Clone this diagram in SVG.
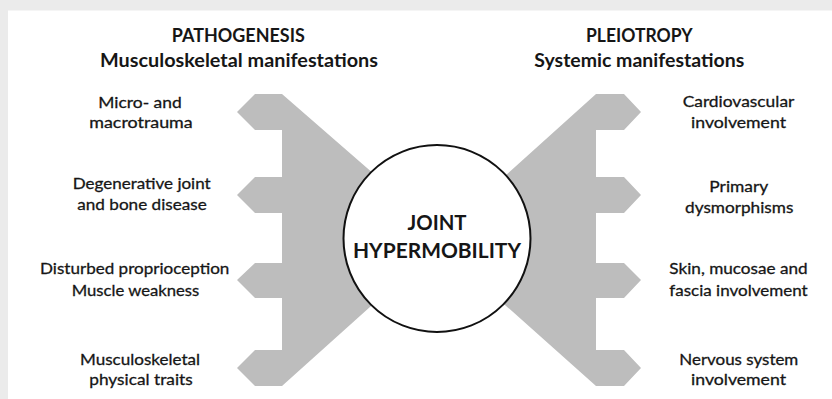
<svg xmlns="http://www.w3.org/2000/svg" width="832" height="399" viewBox="0 0 832 399">
<style>
.bg{fill:#ebebeb}
.panel{fill:#ffffff}
.arm{fill:#bdbdbd}
.hub{fill:#ffffff;stroke:#111111;stroke-width:2}
text{font-family:"Lato","Liberation Sans",sans-serif;fill:#161616;text-anchor:middle}
.hd{font-size:18px;font-weight:bold}
.lb{font-size:16px;stroke:#161616;stroke-width:0.3}
.ct{font-size:20.5px;font-weight:bold}
</style>
<rect class="bg" x="0" y="0" width="832" height="399"/>
<rect class="panel" x="8" y="10.5" width="824" height="388.5"/>
<g id="connectors">
<polygon id="arm-left" class="arm" points="282,94 255,94 237,112 255,130 282,130 282,177 255,177 237,195 255,213 282,213 282,263 255,263 237,280 255,298 282,298 282,350 255,350 237,368 255,386 282,386 390,289 390,188"/>
<polygon id="arm-right" class="arm" points="596,94 624,94 641,112 624,130 596,130 596,177 624,177 641,195 624,213 596,213 596,263 624,263 641,280 624,298 596,298 596,350 624,350 641,368 624,386 596,386 486,288 486,193"/>
</g>
<g id="hub">
<circle class="hub" cx="437" cy="238.5" r="93.5"/>
<text class="ct" x="437" y="230" textLength="59" lengthAdjust="spacingAndGlyphs">JOINT</text>
<text class="ct" x="437" y="258" textLength="168" lengthAdjust="spacingAndGlyphs">HYPERMOBILITY</text>
</g>
<g id="header-left">
<text class="hd" x="238.3" y="42" textLength="133" lengthAdjust="spacingAndGlyphs">PATHOGENESIS</text>
<text class="hd" x="239" y="66.5" textLength="278" lengthAdjust="spacingAndGlyphs">Musculoskeletal manifestations</text>
</g>
<g id="header-right">
<text class="hd" x="639.3" y="42" textLength="106.7" lengthAdjust="spacingAndGlyphs">PLEIOTROPY</text>
<text class="hd" x="639.3" y="66.5" textLength="210" lengthAdjust="spacingAndGlyphs">Systemic manifestations</text>
</g>
<g id="node-trauma">
<text class="lb" x="140" y="108.3" textLength="83.4" lengthAdjust="spacingAndGlyphs">Micro- and</text>
<text class="lb" x="141" y="128.3" textLength="103.4" lengthAdjust="spacingAndGlyphs">macrotrauma</text>
</g>
<g id="node-degenerative">
<text class="lb" x="141.7" y="189" textLength="138" lengthAdjust="spacingAndGlyphs">Degenerative joint</text>
<text class="lb" x="142" y="210" textLength="129.4" lengthAdjust="spacingAndGlyphs">and bone disease</text>
</g>
<g id="node-proprioception">
<text class="lb" x="134.7" y="274" textLength="189.3" lengthAdjust="spacingAndGlyphs">Disturbed proprioception</text>
<text class="lb" x="135.5" y="295.7" textLength="127.6" lengthAdjust="spacingAndGlyphs">Muscle weakness</text>
</g>
<g id="node-traits">
<text class="lb" x="140" y="365" textLength="120" lengthAdjust="spacingAndGlyphs">Musculoskeletal</text>
<text class="lb" x="141" y="385" textLength="103.4" lengthAdjust="spacingAndGlyphs">physical traits</text>
</g>
<g id="node-cardio">
<text class="lb" x="738.5" y="106.7" textLength="111.7" lengthAdjust="spacingAndGlyphs">Cardiovascular</text>
<text class="lb" x="738.5" y="128.3" textLength="95" lengthAdjust="spacingAndGlyphs">involvement</text>
</g>
<g id="node-dysmorph">
<text class="lb" x="738.8" y="191.7" textLength="59" lengthAdjust="spacingAndGlyphs">Primary</text>
<text class="lb" x="739.2" y="213.3" textLength="108.3" lengthAdjust="spacingAndGlyphs">dysmorphisms</text>
</g>
<g id="node-skin">
<text class="lb" x="738.5" y="274" textLength="138.3" lengthAdjust="spacingAndGlyphs">Skin, mucosae and</text>
<text class="lb" x="738.5" y="295.7" textLength="138.3" lengthAdjust="spacingAndGlyphs">fascia involvement</text>
</g>
<g id="node-nervous">
<text class="lb" x="738.8" y="365" textLength="119" lengthAdjust="spacingAndGlyphs">Nervous system</text>
<text class="lb" x="738.5" y="385" textLength="95" lengthAdjust="spacingAndGlyphs">involvement</text>
</g>
</svg>
